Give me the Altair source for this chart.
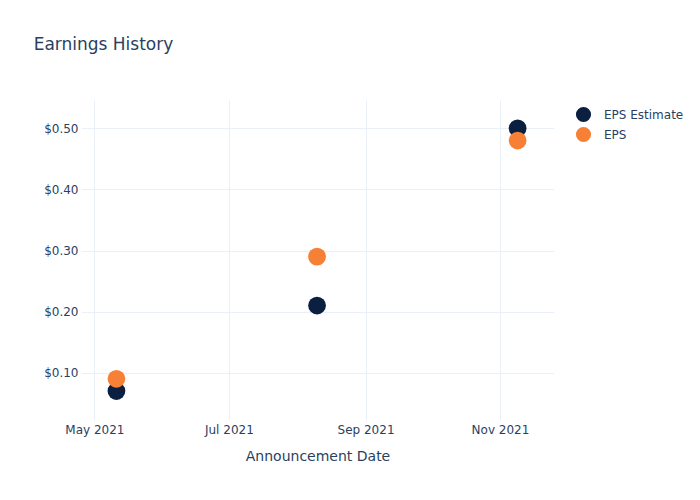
import altair as alt
import pandas as pd

# ---- data ----
dates = ["2021-05-11", "2021-08-10", "2021-11-09"]
eps_estimate = [0.07, 0.21, 0.50]
eps_actual = [0.09, 0.29, 0.48]
series_names = ["EPS Estimate", "EPS"]
series_colors = ["#0b1f40", "#f68036"]
x_tick_dates = ["2021-05-01", "2021-07-01", "2021-09-01", "2021-11-01"]
y_ticks = [0.1, 0.2, 0.3, 0.4, 0.5]

rows = []
for name, vals in zip(series_names, [eps_estimate, eps_actual]):
    for d, v in zip(dates, vals):
        rows.append({"date": d, "value": v, "series": name})
df = pd.DataFrame(rows)


def ms(s):
    return int(pd.Timestamp(s, tz="UTC").value // 10**6)


x_ticks = [ms(d) for d in x_tick_dates]
x_domain = [ms("2021-04-24 22:00"), ms("2021-11-25 12:00")]
y_domain = [0.0226, 0.5464]

FONT = "DejaVu Sans"
TXT = "#2a3f5f"

chart = (
    alt.Chart(df)
    .mark_circle(opacity=1, size=315)
    .encode(
        x=alt.X(
            "date:T",
            scale=alt.Scale(type="utc", domain=x_domain),
            axis=alt.Axis(
                values=x_ticks,
                labelExpr="utcFormat(datum.value, '%b %Y')",
                title="Announcement Date",
                titleFontSize=14,
                titleFontWeight="normal",
                titlePadding=14,
                labelPadding=4,
            ),
        ),
        y=alt.Y(
            "value:Q",
            scale=alt.Scale(domain=y_domain, nice=False, zero=False),
            axis=alt.Axis(values=y_ticks, format="$.2f", title=None, labelPadding=3),
        ),
        color=alt.Color(
            "series:N",
            scale=alt.Scale(domain=series_names, range=series_colors),
            legend=alt.Legend(
                title=None,
                orient="none",
                legendX=494,
                legendY=6,
                symbolSize=230,
                symbolType="circle",
                symbolOpacity=1,
                labelFontSize=12,
                labelColor=TXT,
                labelFont=FONT,
                rowPadding=3,
                labelOffset=12,
            ),
        ),
        order=alt.Order("order:Q"),
    )
    .transform_calculate(order="datum.series == 'EPS Estimate' ? 0 : 1")
    .properties(
        width=473,
        height=320,
        title=alt.TitleParams(
            "Earnings History",
            anchor="start",
            dx=-10,
            offset=46,
            fontSize=17,
            fontWeight="normal",
            color=TXT,
            font=FONT,
        ),
        autosize=alt.AutoSizeParams(type="none"),
        padding={"left": 73, "top": 92, "right": 130, "bottom": 70},
    )
    .configure_view(stroke=None)
    .configure_axis(
        gridColor="#ebf0f8",
        gridWidth=1,
        domain=False,
        ticks=False,
        labelColor=TXT,
        labelFont=FONT,
        labelFontSize=12,
        titleColor=TXT,
        titleFont=FONT,
    )
)

chart.save("out.html", embed_options={"renderer": "svg", "actions": False})
